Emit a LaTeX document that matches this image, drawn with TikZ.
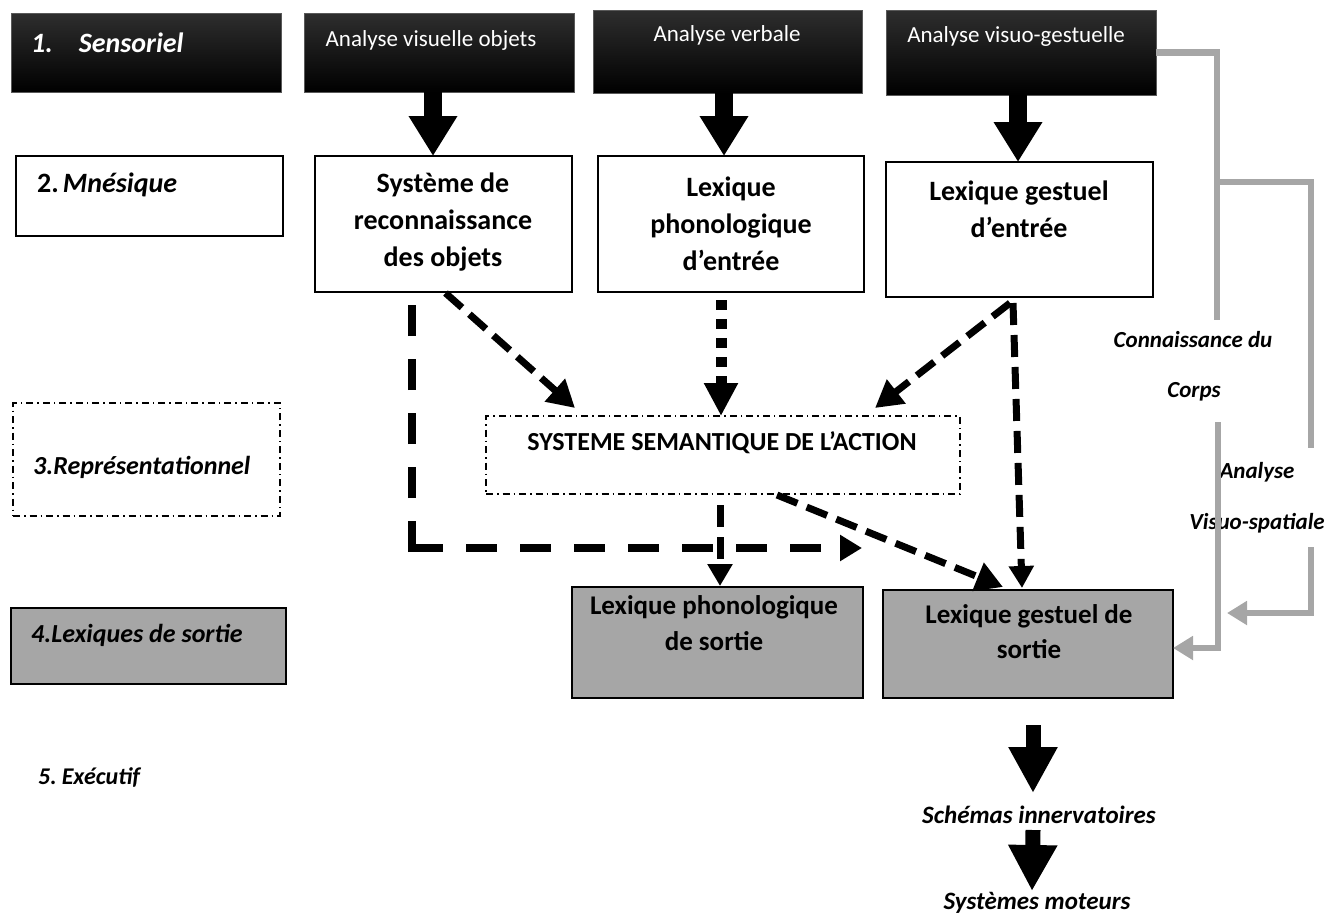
\documentclass[tikz,border=0pt]{standalone}
\usepackage{fontspec}
\setmainfont{Carlito}
\usetikzlibrary{arrows.meta,calc}
\definecolor{boxgray}{RGB}{166,166,166}
\definecolor{linegray}{RGB}{166,166,166}
\begin{document}
\begin{tikzpicture}[x=1pt,y=-1pt,
  blk/.style={draw=black!65, line width=1pt, top color=black!82, bottom color=black, inner sep=0pt, outer sep=0pt},
  wbox/.style={draw=black, line width=1.6pt, fill=white, inner sep=0pt, outer sep=0pt},
  gbox/.style={draw=black, line width=1.6pt, fill=boxgray, inner sep=0pt, outer sep=0pt},
  ddbox/.style={draw=black, line width=1.2pt, dash pattern=on 7pt off 4pt on 1.5pt off 4pt, inner sep=0pt, outer sep=0pt},
  wtxt/.style={text=white, font=\fontsize{23}{28}\selectfont, inner sep=0pt},
  btxt/.style={font=\fontsize{28}{37}\selectfont\bfseries, align=center, inner sep=0pt},
  lab/.style={font=\fontsize{26}{30}\selectfont\bfseries\itshape, inner sep=0pt, anchor=west},
  rlab/.style={font=\fontsize{23}{28}\selectfont\bfseries\itshape, inner sep=0pt},
  blockarrow/.style={line width=18pt, -{Triangle[length=40pt,width=46pt]}},
  blockarrowb/.style={line width=15pt, -{Triangle[length=46pt,width=46pt]}},
  dA/.style={line width=7pt, dash pattern=on 22pt off 10pt},
  dL/.style={line width=8pt, dash pattern=on 31pt off 23pt},
  dD/.style={line width=11pt, dash pattern=on 10pt off 9pt},
  gl/.style={draw=linegray, line width=6.5pt, line join=miter},
  gtip/.style={-{Triangle[length=20pt,width=23pt]}},
]
\useasboundingbox (0,0) rectangle (1329,919);

% ---- row 1 : black boxes
\node[blk, minimum width=270pt, minimum height=79pt] (sens) at (146,52.5) {};
\node[blk, minimum width=270pt, minimum height=79pt] (avo) at (439,52.5) {};
\node[blk, minimum width=269pt, minimum height=83pt] (aver) at (727.5,51.5) {};
\node[blk, minimum width=270pt, minimum height=85pt] (avg) at (1021,52.5) {};
\node[wtxt, anchor=west, font=\fontsize{28}{32}\selectfont\bfseries\itshape] (tsens) at (31,43) {1.\hspace{26pt}Sensoriel};
\node[wtxt] (tavo) at (431,40) {Analyse visuelle objets};
\node[wtxt] (taver) at (727,35) {Analyse verbale};
\node[wtxt] (tavg) at (1016,36) {Analyse visuo-gestuelle};

% ---- row 2
\node[wbox, minimum width=267pt, minimum height=80pt] (mne) at (149.5,196) {};
\node[lab, font=\fontsize{28}{32}\selectfont\bfseries] (tmne) at (37,185) {2.\hspace{4pt}\textit{Mnésique}};
\node[wbox, minimum width=257pt, minimum height=136pt] (sro) at (443.5,224) {};
\node[btxt] (tsro) at (443,222) {Système de\\reconnaissance\\des objets};
\node[wbox, minimum width=266pt, minimum height=136pt] (lpe) at (731,224) {};
\node[btxt] (tlpe) at (731,224) {Lexique\\phonologique\\d’entrée};
\node[wbox, minimum width=267pt, minimum height=135pt] (lge) at (1019.5,229.5) {};
\node[btxt] (tlge) at (1019,209) {Lexique gestuel\\d’entrée};

% ---- row 3
\node[ddbox, minimum width=474pt, minimum height=78pt] (sem) at (723,455) {};
\node[btxt, font=\fontsize{26}{30}\selectfont\bfseries] (tsem) at (722,443) {SYSTEME SEMANTIQUE DE L’ACTION};
\node[ddbox, minimum width=267pt, minimum height=113pt] (rep) at (146.5,459.5) {};
\node[lab] (trep) at (33,467) {3.Représentationnel};

% ---- row 4
\node[gbox, minimum width=275pt, minimum height=76pt] (lxs) at (148.5,646) {};
\node[lab] (tlxs) at (31,635) {4.Lexiques de sortie};
\node[gbox, minimum width=291pt, minimum height=111pt] (lps) at (717.5,642.5) {};
\node[btxt, font=\fontsize{27}{36}\selectfont\bfseries] (tlps) at (714,623) {Lexique phonologique\\de sortie};
\node[gbox, minimum width=290pt, minimum height=108pt] (lgs) at (1028,644) {};
\node[btxt, font=\fontsize{27}{35}\selectfont\bfseries] (tlgs) at (1029,632) {Lexique gestuel de\\sortie};

% ---- row 5
\node[lab, font=\fontsize{24}{28}\selectfont\bfseries\itshape] (texe) at (38,777) {5.\hspace{5pt}Exécutif};
\node[rlab, font=\fontsize{25}{30}\selectfont\bfseries\itshape] (schem) at (1039,815) {Schémas innervatoires};
\node[rlab, font=\fontsize{25}{30}\selectfont\bfseries\itshape] (sysm) at (1037,903) {Systèmes moteurs};

% ---- right labels
\node[rlab] (tcon) at (1193,340) {Connaissance du};
\node[rlab] (tcor) at (1194,392) {Corps};
\node[rlab] (tana) at (1257,472) {Analyse};
\node[rlab] (tvis) at (1257,523) {Visuo-spatiale};

% ---- block arrows
\draw[blockarrow] ([xshift=-6pt]avo.south) -- ([xshift=-10.5pt]sro.north);
\draw[blockarrow] ([xshift=-3.5pt]aver.south) -- ([xshift=-7pt]lpe.north);
\draw[blockarrow] ([xshift=-3pt]avg.south) -- ([xshift=-1.5pt]lge.north);
\draw[blockarrowb] ([xshift=5pt,yshift=-27pt]lgs.south) -- ([xshift=-6pt,yshift=22pt]schem.center);
\draw[blockarrowb] ([xshift=-6pt,yshift=-15pt]schem.center) -- ([xshift=-5pt,yshift=12pt]sysm.center);

% ---- dashed connectors
\draw[dA, -{Triangle[length=27pt,width=29pt]}] ([xshift=2pt,yshift=-1pt]sro.south) -- ([xshift=-148pt,yshift=8pt]sem.north);
\coordinate (corner) at (412,548);
\coordinate (lend) at (862,548);
\draw[dL] ([yshift=-4pt]corner) -- ([xshift=-31.5pt,yshift=-7pt]sro.south);
\draw[dL, -{Triangle[length=22pt,width=25pt]}] (corner) -- (lend);
\draw[dD, -{Triangle[length=33pt,width=32pt]}] ([xshift=-10pt,yshift=-8pt]lpe.south) -- ([xshift=-2pt]sem.north);
\draw[dA, -{Triangle[length=27pt,width=29pt]}] ([xshift=-9.5pt,yshift=-6pt]lge.south) -- ([xshift=152pt,yshift=8pt]sem.north);
\draw[dA, -{Triangle[length=22pt,width=24pt]}] ([xshift=-6.5pt,yshift=-6pt]lge.south) -- ([xshift=-6pt,yshift=2pt]lgs.north);
\draw[dA, -{Triangle[length=22pt,width=24pt]}] ([xshift=-3pt,yshift=-11pt]sem.south) -- ([xshift=2.5pt,yshift=1pt]lps.north);
\draw[dA, -{Triangle[length=27pt,width=29pt]}] ([xshift=54pt,yshift=-1pt]sem.south) -- ([xshift=-25pt,yshift=3pt]lgs.north);

% ---- grey connectors
\coordinate (gA) at (1217,320);
\coordinate (gB) at (1218,422);
\coordinate (gJ) at (1217,182);
\coordinate (gC) at (1311,448);
\coordinate (gD) at (1311,547);
\coordinate (gE) at (1227,613);
\draw[gl] ([xshift=-0.5pt]avg.east) -| (gA);
\draw[gl, gtip] (gB) |- ([yshift=-4pt]lgs.east);
\draw[gl] ([xshift=-3pt]gJ) -| (gC);
\draw[gl, gtip] (gD) |- (gE);
\end{tikzpicture}
\end{document}
